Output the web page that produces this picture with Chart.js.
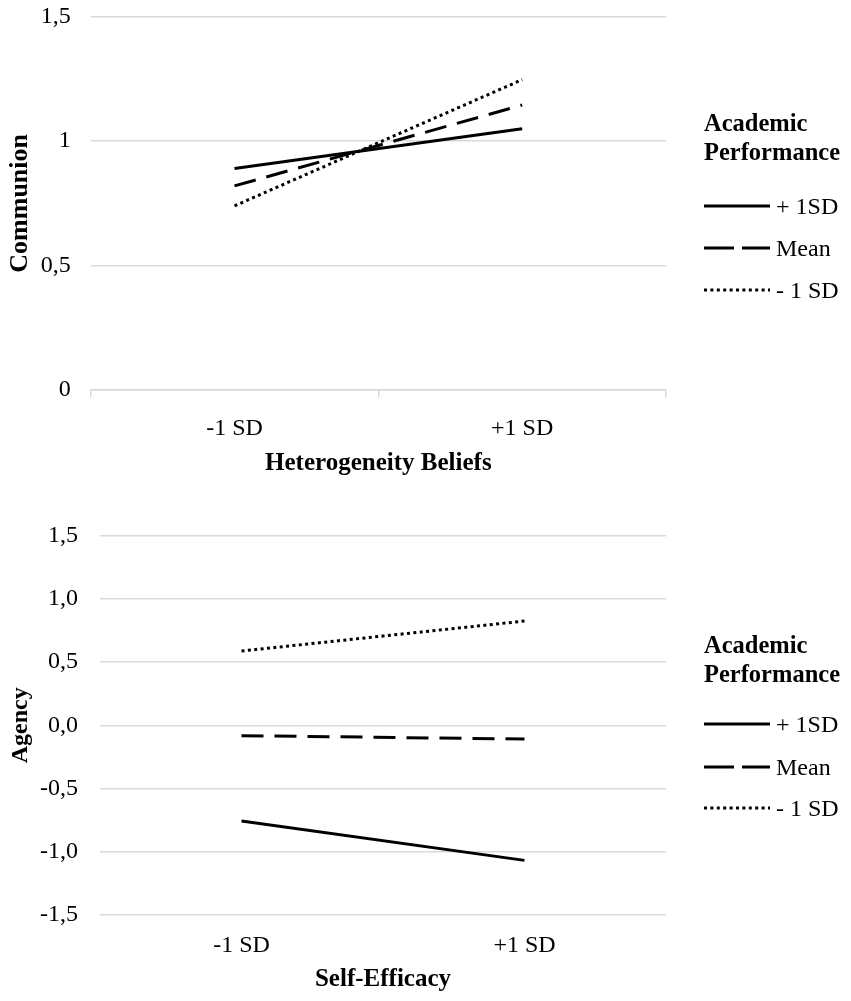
<!DOCTYPE html>
<html>
<head>
<meta charset="utf-8">
<script src="https://cdn.jsdelivr.net/npm/chart.js@4"></script>
<style>
  html, body { margin: 0; padding: 0; background: #fff; }
  #wrap { position: relative; width: 851px; height: 1001px; overflow: hidden; }
  canvas { position: absolute; left: 0; }
  .legend { position: absolute; left: 704px; font-family: "Liberation Serif", serif; font-size: 24px; color: #000; }
  .legend .title { font-weight: bold; font-size: 24.5px; line-height: 29px; }
  .legend .row { position: absolute; left: 0; height: 42px; display: flex; align-items: center; white-space: nowrap; }
  .legend svg { margin-right: 6px; }
</style>
</head>
<body>
<div id="wrap">
  <canvas id="communion" width="851" height="490" style="top:0"></canvas>
  <canvas id="agency" width="851" height="511" style="top:490px"></canvas>
  <div class="legend" id="legendTop" style="top:108px"></div>
  <div class="legend" id="legendBottom" style="top:630px"></div>
</div>
<script>
const categories = ["-1 SD", "+1 SD"];
const seriesNames = ["+ 1SD", "Mean", "- 1 SD"];
const legendTitle = ["Academic", "Performance"];

// top panel: Communion by heterogeneity beliefs
const communionPlus = [0.89, 1.05];
const communionMean = [0.82, 1.145];
const communionMinus = [0.74, 1.247];
const communionTicks = ["0", "0,5", "1", "1,5"];

// bottom panel: Agency by self-efficacy
const agencyPlus = [-0.757, -1.068];
const agencyMean = [-0.082, -0.108];
const agencyMinus = [0.588, 0.825];
const agencyTicks = ["-1,5", "-1,0", "-0,5", "0,0", "0,5", "1,0", "1,5"];

const dashes = [[], [22, 11], [3, 3.4]];
const gridColor = "#d9d9d9";
const serif = "'Liberation Serif', 'Times New Roman', serif";

function makeDatasets(series) {
    return series.map((values, i) => ({
        label: seriesNames[i],
        data: values,
        borderColor: "#000",
        borderWidth: 3,
        borderDash: dashes[i],
        pointRadius: 0,
        tension: 0,
        fill: false,
    }));
}

function makeChart(id, series, opts) {
    const ctx = document.getElementById(id).getContext("2d");
    return new Chart(ctx, {
        type: "line",
        data: { labels: categories, datasets: makeDatasets(series) },
        options: {
            responsive: false,
            animation: false,
            layout: { padding: { top: opts.padTop, right: 185, left: 0, bottom: 0 } },
            plugins: { legend: { display: false }, tooltip: { enabled: false } },
            scales: {
                x: {
                    offset: true,
                    grid: {
                        display: opts.xTicks,
                        offset: true,
                        drawOnChartArea: false,
                        tickLength: 7,
                        color: gridColor,
                        lineWidth: 1.5,
                    },
                    border: { display: opts.xTicks, color: gridColor, width: 1.5 },
                    ticks: { color: "#000", font: { family: serif, size: 24 }, padding: opts.xTickPad },
                    title: {
                        display: true,
                        text: opts.xTitle,
                        color: "#000",
                        font: { family: serif, size: 25, weight: "bold" },
                        padding: { top: 0, bottom: opts.xTitlePad },
                    },
                    afterFit: (s) => { s.height = opts.xHeight; },
                },
                y: {
                    min: opts.min,
                    max: opts.max,
                    ticks: {
                        stepSize: 0.5,
                        color: "#000",
                        font: { family: serif, size: 24 },
                        padding: opts.yTickPad,
                        callback: (v, i) => opts.tickLabels[i],
                    },
                    grid: { color: gridColor, lineWidth: 1.5, drawTicks: false },
                    border: { display: false },
                    title: {
                        display: true,
                        text: opts.yTitle,
                        color: "#000",
                        font: { family: serif, size: opts.yTitleSize, weight: "bold" },
                        padding: { top: opts.yTitlePad, bottom: 0 },
                    },
                    afterFit: (s) => {
                        s.width = opts.yWidth;
                        s.paddingTop = 0;
                    },
                },
            },
        },
    });
}

makeChart("communion", [communionPlus, communionMean, communionMinus], {
    padTop: 16.7, min: 0, max: 1.5, tickLabels: communionTicks,
    xTitle: "Heterogeneity Beliefs", yTitle: "Communion", yTitleSize: 26, yTitlePad: 5,
    xTicks: true, xHeight: 100, xTickPad: 17, xTitlePad: 11.5,
    yWidth: 90.7, yTickPad: 20,
});

makeChart("agency", [agencyPlus, agencyMean, agencyMinus], {
    padTop: 45.7, min: -1.5, max: 1.5, tickLabels: agencyTicks,
    xTitle: "Self-Efficacy", yTitle: "Agency", yTitleSize: 24, yTitlePad: 6,
    xTicks: false, xHeight: 86, xTickPad: 9, xTitlePad: 6,
    yWidth: 100, yTickPad: 22,
});

// legends built from the same names and dash patterns
function svgLine(dash) {
    const da = dash.length ? dash.join(" ") : "none";
    return '<svg width="66" height="10"><line x1="0" y1="5" x2="66" y2="5" stroke="#000" stroke-width="3" stroke-dasharray="' + da + '"/></svg>';
}
function buildLegend(el, rowTops) {
    let html = '<div class="title">' + legendTitle.join("<br>") + "</div>";
    seriesNames.forEach((name, i) => {
        const d = i === 1 ? [30, 8] : dashes[i];
        html += '<div class="row" style="top:' + rowTops[i] + 'px">' + svgLine(d) + "<span>" + name + "</span></div>";
    });
    el.innerHTML = html;
}
buildLegend(document.getElementById("legendTop"), [77, 119, 161]);
buildLegend(document.getElementById("legendBottom"), [73, 116, 157]);
</script>
</body>
</html>
